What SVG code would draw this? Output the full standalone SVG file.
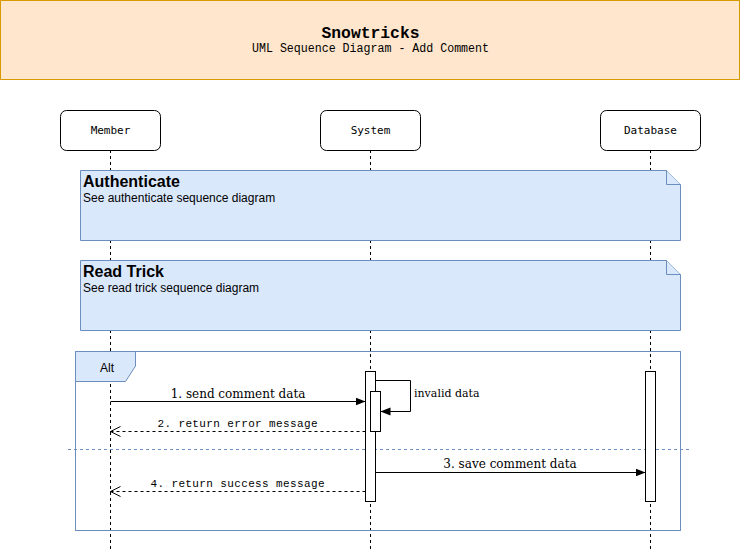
<svg xmlns="http://www.w3.org/2000/svg" width="741" height="551" viewBox="0 0 741 551">
<style>
.mono{font-family:"Liberation Mono","DejaVu Sans Mono",monospace;fill:#000}
.lbl{font-family:"DejaVu Sans Mono","Liberation Mono",monospace;fill:#000;font-size:11px}
.sans{font-family:"Liberation Sans",Arial,sans-serif;fill:#000}
.serif{font-family:"DejaVu Serif","Liberation Serif",serif;fill:#000}
.box{fill:#fff;stroke:#000;stroke-width:1}
.life{stroke:#000;stroke-width:1;stroke-dasharray:3,3;fill:none}
.note{fill:#dae8fc;stroke:#6c8ebf;stroke-width:1}
.msg{stroke:#000;stroke-width:1;fill:none}
.ret{stroke:#000;stroke-width:1;fill:none;stroke-dasharray:3,3}
</style>
<defs>
<marker id="fill" viewBox="0 0 10 10" refX="10" refY="5" markerWidth="10" markerHeight="10" markerUnits="userSpaceOnUse" orient="auto">
<path d="M0,1 L10,5 L0,9 Z" fill="#000"/>
</marker>
<marker id="open" viewBox="0 0 12 12" refX="11" refY="6" markerWidth="12" markerHeight="12" markerUnits="userSpaceOnUse" orient="auto">
<path d="M1,1 L11,6 L1,11" fill="none" stroke="#000" stroke-width="1"/>
</marker>
</defs>
<rect width="741" height="551" fill="#fff"/>
<g id="header">
<rect x="0.5" y="0.5" width="739" height="79" fill="#ffe6cc" stroke="#d79b00"/>
<text class="mono" x="370.5" y="38" font-size="16" font-weight="bold" text-anchor="middle" textLength="98" lengthAdjust="spacingAndGlyphs">Snowtricks</text>
<text class="mono" x="370.5" y="52" font-size="12" text-anchor="middle" textLength="237" lengthAdjust="spacingAndGlyphs">UML Sequence Diagram - Add Comment</text>
</g>
<g id="lifelines">
<line class="life" x1="110.5" y1="150" x2="110.5" y2="551"/>
<line class="life" x1="370.5" y1="150" x2="370.5" y2="551"/>
<line class="life" x1="650.5" y1="150" x2="650.5" y2="551"/>
</g>
<g id="member">
<rect class="box" x="60.5" y="110.5" width="100" height="40" rx="6"/>
<text class="lbl" x="110.5" y="134" text-anchor="middle">Member</text>
</g>
<g id="system">
<rect class="box" x="320.5" y="110.5" width="100" height="40" rx="6"/>
<text class="lbl" x="370.5" y="134" text-anchor="middle">System</text>
</g>
<g id="database">
<rect class="box" x="600.5" y="110.5" width="100" height="40" rx="6"/>
<text class="lbl" x="650.5" y="134" text-anchor="middle">Database</text>
</g>
<g id="note-authenticate">
<path class="note" d="M80.5,170.5 H666.5 L680.5,184.5 V240.5 H80.5 Z"/>
<path class="note" d="M666.5,170.5 V184.5 H680.5"/>
<text class="sans" x="83" y="187" font-size="16" font-weight="bold">Authenticate</text>
<text class="sans" x="83" y="202" font-size="12">See authenticate sequence diagram</text>
</g>
<g id="note-readtrick">
<path class="note" d="M80.5,260.5 H666.5 L680.5,274.5 V330.5 H80.5 Z"/>
<path class="note" d="M666.5,260.5 V274.5 H680.5"/>
<text class="sans" x="83" y="277" font-size="16" font-weight="bold">Read Trick</text>
<text class="sans" x="83" y="292" font-size="12">See read trick sequence diagram</text>
</g>
<g id="alt">
<rect x="75.5" y="351.5" width="605" height="179" fill="none" stroke="#6c8ebf"/>
<path d="M75.5,351.5 H135.5 V366 L125.5,381.5 H75.5 Z" fill="#dae8fc" stroke="#6c8ebf"/>
<text class="sans" x="107" y="372" font-size="12" text-anchor="middle">Alt</text>
<line x1="68" y1="449.5" x2="690" y2="449.5" stroke="#6c8ebf" stroke-dasharray="3,3"/>
</g>
<g id="activations">
<rect class="box" x="365.5" y="371.5" width="10" height="130"/>
<rect class="box" x="370.5" y="391.5" width="10" height="40"/>
<rect class="box" x="645.5" y="371.5" width="10" height="130"/>
</g>
<g id="connectors">
<line class="msg" x1="110.5" y1="401.5" x2="365.5" y2="401.5" marker-end="url(#fill)"/>
<polyline class="msg" points="375.5,380.5 410.5,380.5 410.5,411.5 380.5,411.5" marker-end="url(#fill)"/>
<line class="ret" x1="365.5" y1="431.5" x2="110.5" y2="431.5" marker-end="url(#open)"/>
<line class="msg" x1="375.5" y1="472.5" x2="645.5" y2="472.5" marker-end="url(#fill)"/>
<line class="ret" x1="365.5" y1="491.5" x2="110.5" y2="491.5" marker-end="url(#open)"/>
</g>
<g id="labels">
<text class="serif" x="238" y="398" font-size="12" text-anchor="middle">1. send comment data</text>
<text class="serif" x="414" y="397" font-size="11">invalid data</text>
<text class="mono" x="237.5" y="427" font-size="11" text-anchor="middle" textLength="160" lengthAdjust="spacing">2. return error message</text>
<text class="serif" x="510" y="468" font-size="12" text-anchor="middle">3. save comment data</text>
<text class="mono" x="237.5" y="487" font-size="11" text-anchor="middle" textLength="174" lengthAdjust="spacing">4. return success message</text>
</g>
</svg>
